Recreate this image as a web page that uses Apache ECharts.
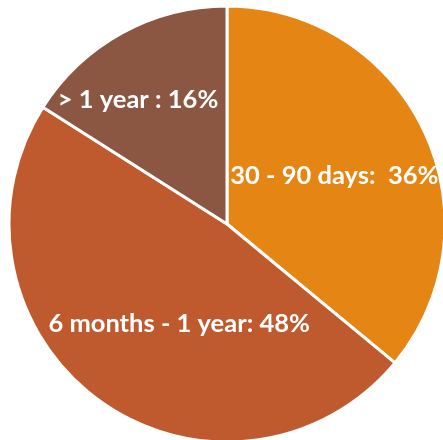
<!DOCTYPE html>
<html>
<head>
<meta charset="utf-8">
<script src="https://cdn.jsdelivr.net/npm/echarts@6/dist/echarts.min.js"></script>
<style>
html,body{margin:0;padding:0;background:#fff;}
#c{width:443px;height:440px;}
</style>
</head>
<body>
<div id="c"></div>
<script>
var categories = ['30 - 90 days', '6 months - 1 year', '> 1 year'];
var values = [36, 48, 16];
var separators = [':  ', ': ', ' : '];
var colors = ['#E58513', '#BE5A2E', '#8B5742'];
var labelOffsets = [[6, -1], [18, 9], [-35, -26]];

var chart = echarts.init(document.getElementById('c'));
chart.setOption({
  animation: false,
  series: [{
    type: 'pie',
    center: [227, 224],
    radius: 218,
    startAngle: 90,
    clockwise: true,
    itemStyle: { borderColor: '#ffffff', borderWidth: 3 },
    label: {
      show: true,
      position: 'inside',
      color: '#ffffff',
      fontFamily: 'Lato',
      fontWeight: 'bold',
      fontSize: 25.5,
      formatter: function (p) {
        return p.name + separators[p.dataIndex] + p.value + '%';
      }
    },
    labelLine: { show: false },
    data: categories.map(function (n, i) {
      return {
        name: n,
        value: values[i],
        itemStyle: { color: colors[i] },
        label: { offset: labelOffsets[i] }
      };
    })
  }]
});
</script>
</body>
</html>
